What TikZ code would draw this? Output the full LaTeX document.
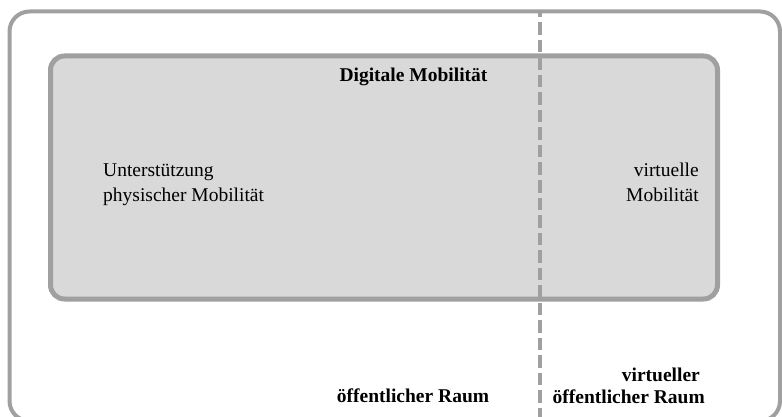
\documentclass[tikz,border=0pt]{standalone}
\usepackage{fontspec}
\setmainfont{Liberation Serif}
\definecolor{linegray}{HTML}{A0A0A0}
\definecolor{boxfill}{HTML}{D9D9D9}
\tikzset{
  lbl/.style={inner sep=0pt, font=\fontsize{19.5}{23}\selectfont, text=black},
  blbl/.style={lbl, font=\fontsize{19.5}{23}\selectfont\bfseries},
}
\begin{document}
\begin{tikzpicture}[x=1pt,y=-1pt]
\useasboundingbox (0,0) rectangle (782,417);
% outer area
\draw[linegray, line width=4pt, rounded corners=20pt] (9.5,11.5) rectangle (780,421);
% inner box
\draw[linegray, line width=5pt, fill=boxfill, rounded corners=14pt] (50.5,56) rectangle (717.5,299);
% divider
\coordinate (dtop) at (540,11.5);
\coordinate (dbot) at (540,420);
\draw[linegray, line width=3.3pt, dash pattern=on 12.5pt off 5pt, dash phase=6.5pt] (dtop) -- (dbot);
% labels
\node[blbl, anchor=base] (dm) at (413.5,82) {Digitale Mobilität};
\node[lbl, anchor=base west] (u1) at (103,177) {Unterstützung};
\node[lbl, anchor=base west] (u2) at (103,201) {physischer Mobilität};
\node[lbl, anchor=base east] (v1) at (699,177) {virtuelle};
\node[lbl, anchor=base east] (v2) at (699,201) {Mobilität};
\node[blbl, anchor=base] (oe) at (413,402) {öffentlicher Raum};
\node[blbl, anchor=base east] (vo1) at (700,381) {virtueller};
\node[blbl, anchor=base east] (vo2) at (705,403) {öffentlicher Raum};
\end{tikzpicture}
\end{document}
